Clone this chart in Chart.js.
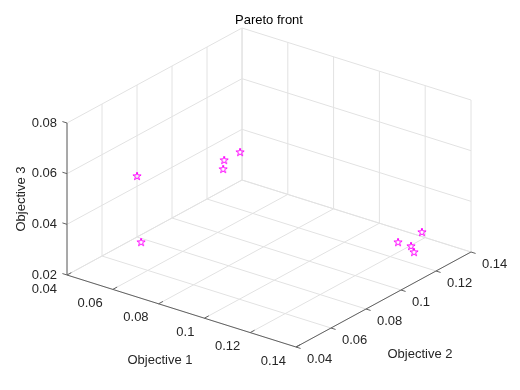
<!DOCTYPE html>
<html>
<head>
<meta charset="utf-8">
<script src="https://cdn.jsdelivr.net/npm/chart.js@4.4.1/dist/chart.umd.min.js"></script>
<style>
	html, body { margin: 0; padding: 0; background: #fff; }
	canvas { display: block; }
</style>
</head>
<body>
<canvas id="paretoChart" width="520" height="390"></canvas>
<script>
// Pareto front points (objective values)
const obj1 = [0.0507, 0.0524, 0.0536, 0.0566, 0.0670, 0.1251, 0.1281, 0.1307, 0.1317];
const obj2 = [0.1158, 0.1130, 0.1211, 0.0606, 0.0447, 0.1178, 0.1213, 0.1196, 0.1228];
const obj3 = [0.0400, 0.0380, 0.0420, 0.0300, 0.0650, 0.0280, 0.0260, 0.0250, 0.0320];

// ticks and tick labels
const obj1Ticks = [0.04, 0.06, 0.08, 0.1, 0.12, 0.14];
const obj2Ticks = [0.04, 0.06, 0.08, 0.1, 0.12, 0.14];
const obj3Ticks = [0.02, 0.04, 0.06, 0.08];
const obj1Labels = ['0.04', '0.06', '0.08', '0.1', '0.12', '0.14'];
const obj2Labels = ['0.04', '0.06', '0.08', '0.1', '0.12', '0.14'];
const obj3Labels = ['0.02', '0.04', '0.06', '0.08'];

const xLim = [0.04, 0.14];
const yLim = [0.04, 0.14];
const zLim = [0.02, 0.08];

/* -------------------------------------------------------------
 * view: how each box edge projects (az/el style view)
 * ------------------------------------------------------------- */
const EX = [229, -72];
const EY = [175, 95];
const EZ = [0, 152];

function project(x, y, z) {
	const nx = (x - xLim[0]) / (xLim[1] - xLim[0]);
	const ny = (y - yLim[0]) / (yLim[1] - yLim[0]);
	const nz = (z - zLim[0]) / (zLim[1] - zLim[0]);
	return {
		x: nx * EX[0] + ny * EY[0] + nz * EZ[0],
		y: nx * EX[1] + ny * EY[1] + nz * EZ[1]
	};
}

// pentagram marker
function makeStar(color) {
	const c = document.createElement('canvas');
	c.width = 12;
	c.height = 12;
	const g = c.getContext('2d');
	const R = 4.3, r = R * 0.382;
	g.beginPath();
	for (let i = 0; i < 10; i++) {
		const rad = i % 2 === 0 ? R : r;
		const a = -Math.PI / 2 + i * Math.PI / 5;
		const px = 6 + rad * Math.cos(a), py = 6.3 + rad * Math.sin(a);
		if (i === 0) g.moveTo(px, py); else g.lineTo(px, py);
	}
	g.closePath();
	g.strokeStyle = color;
	g.lineWidth = 1;
	g.stroke();
	return c;
}

const FONT = '13px "Liberation Sans", Arial, sans-serif';

const boxPlugin = {
	id: 'box3d',
	beforeDatasetsDraw(chart) {
		const { ctx } = chart;
		const sx = chart.scales.x, sy = chart.scales.y;
		const P = (x, y, z) => {
			const p = project(x, y, z);
			return [sx.getPixelForValue(p.x), sy.getPixelForValue(p.y)];
		};
		const seg = (a, b) => {
			ctx.beginPath();
			ctx.moveTo(a[0], a[1]);
			ctx.lineTo(b[0], b[1]);
			ctx.stroke();
		};

		ctx.save();
		ctx.lineWidth = 1;
		ctx.strokeStyle = '#e2e2e2';

		// floor
		obj1Ticks.forEach(t => seg(P(t, yLim[0], zLim[0]), P(t, yLim[1], zLim[0])));
		obj2Ticks.forEach(t => seg(P(xLim[0], t, zLim[0]), P(xLim[1], t, zLim[0])));
		// left wall
		obj2Ticks.forEach(t => seg(P(xLim[0], t, zLim[0]), P(xLim[0], t, zLim[1])));
		obj3Ticks.forEach(t => seg(P(xLim[0], yLim[0], t), P(xLim[0], yLim[1], t)));
		// back wall
		obj1Ticks.forEach(t => seg(P(t, yLim[1], zLim[0]), P(t, yLim[1], zLim[1])));
		obj3Ticks.forEach(t => seg(P(xLim[0], yLim[1], t), P(xLim[1], yLim[1], t)));

		// axis lines
		ctx.strokeStyle = '#626262';
		seg(P(xLim[0], yLim[0], zLim[0]), P(xLim[1], yLim[0], zLim[0]));
		seg(P(xLim[1], yLim[0], zLim[0]), P(xLim[1], yLim[1], zLim[0]));
		seg(P(xLim[0], yLim[0], zLim[0]), P(xLim[0], yLim[0], zLim[1]));

		// tick marks
		const dy = 0.025 * (yLim[1] - yLim[0]);
		const dx = 0.02 * (xLim[1] - xLim[0]);
		obj1Ticks.forEach(t => seg(P(t, yLim[0], zLim[0]), P(t, yLim[0] + dy, zLim[0])));
		obj2Ticks.forEach(t => seg(P(xLim[1], t, zLim[0]), P(xLim[1] + dx, t, zLim[0])));
		obj3Ticks.forEach(t => seg(P(xLim[0], yLim[0], t), P(xLim[0] - dx, yLim[0], t)));
		ctx.restore();
	},
	afterDraw(chart) {
		const { ctx } = chart;
		const sx = chart.scales.x, sy = chart.scales.y;
		const P = (x, y, z) => {
			const p = project(x, y, z);
			return [sx.getPixelForValue(p.x), sy.getPixelForValue(p.y)];
		};

		ctx.save();
		ctx.font = FONT;
		ctx.fillStyle = '#262626';
		ctx.textBaseline = 'middle';

		ctx.textAlign = 'right';
		obj3Ticks.forEach((t, i) => {
			const p = P(xLim[0], yLim[0], t);
			ctx.fillText(obj3Labels[i], p[0] - 10, p[1]);
		});
		obj1Ticks.forEach((t, i) => {
			const p = P(t, yLim[0], zLim[0]);
			ctx.fillText(obj1Labels[i], p[0] - 10, p[1] + 14);
		});
		ctx.textAlign = 'left';
		obj2Ticks.forEach((t, i) => {
			const p = P(xLim[1], t, zLim[0]);
			ctx.fillText(obj2Labels[i], p[0] + 11, p[1] + 12);
		});

		// axis titles
		ctx.textAlign = 'center';
		const m1 = P((xLim[0] + xLim[1]) / 2, yLim[0], zLim[0]);
		ctx.fillText('Objective 1', m1[0] - 21.5, m1[1] + 49);
		const m2 = P(xLim[1], (yLim[0] + yLim[1]) / 2, zLim[0]);
		ctx.fillText('Objective 2', m2[0] + 36.5, m2[1] + 54.5);
		const m3 = P(xLim[0], yLim[0], (zLim[0] + zLim[1]) / 2);
		ctx.save();
		ctx.translate(m3[0] - 45.5, m3[1]);
		ctx.rotate(-Math.PI / 2);
		ctx.fillText('Objective 3', 0, 0);
		ctx.restore();

		// title
		ctx.fillStyle = '#000';
		ctx.fillText('Pareto front', 269, 20);
		ctx.restore();
	}
};

const points = obj1.map((v, i) => project(v, obj2[i], obj3[i]));

new Chart(document.getElementById('paretoChart'), {
	type: 'scatter',
	data: {
		datasets: [
			{
				label: 'Pareto front',
				data: points,
				pointStyle: makeStar('#ff00ff'),
				pointRadius: 5
			}
		]
	},
	options: {
		responsive: false,
		animation: false,
		layout: { padding: 0, autoPadding: false },
		plugins: {
			legend: { display: false },
			tooltip: { enabled: false }
		},
		scales: {
			x: { type: 'linear', display: false, min: -67, max: 453 },
			y: { type: 'linear', display: false, min: -115, max: 275 }
		}
	},
	plugins: [boxPlugin]
});
</script>
</body>
</html>
